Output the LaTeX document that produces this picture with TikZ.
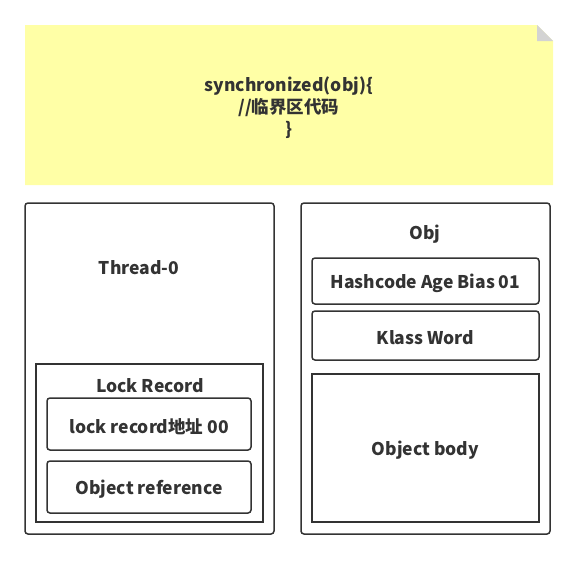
\documentclass[tikz,border=0pt]{standalone}
\usepackage{fontspec}
\setmainfont{Noto Sans CJK SC}
\definecolor{notefill}{HTML}{FFFFA6}
\definecolor{foldgray}{HTML}{D3D3D3}
\definecolor{ink}{HTML}{333333}
\tikzset{
  box/.style={draw=ink, line width=1.5pt, rounded corners=3pt, inner sep=0pt},
  flatbox/.style={draw=ink, line width=1.5pt, inner sep=0pt},
  txt/.style={text=ink, font=\fontsize{17.5}{22}\selectfont\bfseries, align=center, yshift=-2.5pt}
}
\begin{document}
\begin{tikzpicture}[x=1pt, y=-1pt]
\useasboundingbox (0,0) rectangle (578,560);
% note with folded corner
\fill[notefill] (25,25) -- (537,25) -- (553,41) -- (553,185) -- (25,185) -- cycle;
\fill[foldgray] (537,25) -- (537,41) -- (553,41) -- cycle;
\node[txt] (code) at (289,105) {synchronized(obj)\{\\//临界区代码\\\}};
% thread side
\node[box, minimum width=249pt, minimum height=331pt] (thread) at (149.5,368.5) {};
\node[txt] (threadname) at (139,265) {Thread-0};
\node[flatbox, minimum width=227pt, minimum height=158pt] (lockrec) at (149.5,443) {};
\node[txt] (lockname) at (150,383) {Lock Record};
\node[box, minimum width=204pt, minimum height=52pt] (lockaddr) at (149,424) {};
\node[txt] at (lockaddr.center) {lock record地址 00};
\node[box, minimum width=204pt, minimum height=52pt] (objref) at (149,487) {};
\node[txt] at (objref.center) {Object reference};
% object side
\node[box, minimum width=249pt, minimum height=331pt] (obj) at (425.5,368.5) {};
\node[txt] (objname) at (425,232) {Obj};
\node[box, minimum width=227pt, minimum height=46pt] (mark) at (425.5,281) {};
\node[txt] at (mark.center) {Hashcode Age Bias 01};
\node[box, minimum width=227pt, minimum height=49pt] (klass) at (425.5,335.5) {};
\node[txt] at (klass.center) {Klass Word};
\node[flatbox, minimum width=227pt, minimum height=148pt] (body) at (425.5,448) {};
\node[txt] at (body.center) {Object body};
\end{tikzpicture}
\end{document}
